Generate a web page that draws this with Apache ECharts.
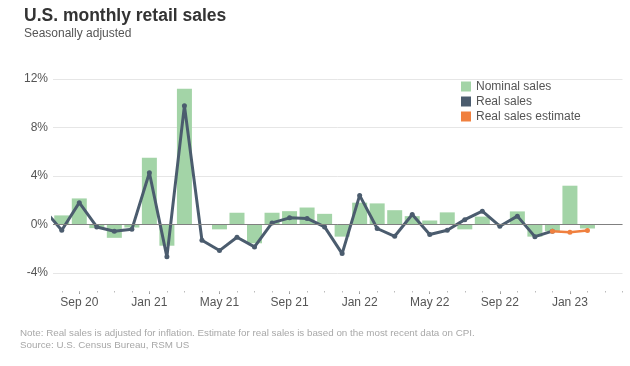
<!DOCTYPE html>
<html><head><meta charset="utf-8">
<script src="https://cdn.jsdelivr.net/npm/echarts@6/dist/echarts.min.js"></script>
<style>html,body{margin:0;padding:0;background:#fff}#c{width:630px;height:366px}</style>
</head><body><div id="c"></div>
<script>
// Month index 0 = Jul 20
const months = ["Jul 20","Aug 20","Sep 20","Oct 20","Nov 20","Dec 20",
  "Jan 21","Feb 21","Mar 21","Apr 21","May 21","Jun 21","Jul 21","Aug 21","Sep 21","Oct 21","Nov 21","Dec 21",
  "Jan 22","Feb 22","Mar 22","Apr 22","May 22","Jun 22","Jul 22","Aug 22","Sep 22","Oct 22","Nov 22","Dec 22",
  "Jan 23","Feb 23","Mar 23","Apr 23"];
// Nominal sales, % m/m (Jul 20 .. Feb 23)
const nominal = [null, 0.75, 2.15, -0.3, -1.1, -0.25,
  5.5, -1.75, 11.2, 0.0, -0.4, 0.97, -1.55, 0.97, 1.1, 1.4, 0.88, -1.0,
  1.8, 1.74, 1.18, 0.69, 0.33, 1.0, -0.4, 0.65, 0.0, 1.08, -1.0, -0.55,
  3.2, -0.33];
// Real sales, % m/m (Jul 20 .. Dec 22)
const real = [1.2, -0.47, 1.8, -0.2, -0.55, -0.4,
  4.27, -2.67, 9.8, -1.3, -2.15, -1.05, -1.85, 0.13, 0.55, 0.5, -0.2, -2.4,
  2.4, -0.33, -0.97, 0.83, -0.83, -0.47, 0.4, 1.1, -0.14, 0.69, -1.0, -0.55];
// Real sales estimate (Dec 22 .. Feb 23)
const estimateStart = "Dec 22";
const estimate = [-0.55, -0.63, -0.5];
const tickLabels = ["Sep 20","Jan 21","May 21","Sep 21","Jan 22","May 22","Sep 22","Jan 23"];

const majorIdx = tickLabels.map(l => months.indexOf(l));
const allIdx = months.map((m, i) => i).filter(i => i >= 1);
const estStart = months.indexOf(estimateStart);

const GREEN = '#a3d4a7', SLATE = '#4b5c6e', ORANGE = '#f0803f';
const chart = echarts.init(document.getElementById('c'), null, {renderer: 'canvas'});
chart.setOption({
  animation: false,
  textStyle: {fontFamily: 'Liberation Sans, Arial, sans-serif'},
  title: [
    {text: 'U.S. monthly retail sales', left: 24, top: 7, padding: 0,
     textStyle: {fontSize: 17.5, fontWeight: 'bold', color: '#333'}},
    {text: 'Seasonally adjusted', left: 24, top: 28, padding: 0,
     textStyle: {fontSize: 12, fontWeight: 'normal', color: '#555'}},
    {text: 'Note: Real sales is adjusted for inflation. Estimate for real sales is based on the most recent data on CPI.', left: 20, top: 328, padding: 0,
     textStyle: {fontSize: 9.8, fontWeight: 'normal', color: '#a8a8a8'}},
    {text: 'Source: U.S. Census Bureau, RSM US', left: 20, top: 340, padding: 0,
     textStyle: {fontSize: 9.8, fontWeight: 'normal', color: '#a8a8a8'}}
  ],
  legend: {
    orient: 'vertical', left: 461, top: 80.5, padding: 0,
    itemWidth: 10, itemHeight: 10, itemGap: 3, icon: 'rect',
    textStyle: {fontSize: 12, color: '#555'},
    data: ['Nominal sales', 'Real sales', 'Real sales estimate']
  },
  grid: {left: 53, right: 7.5, top: 79, bottom: 93, containLabel: false},
  xAxis: [
    {type: 'value', min: 0.5, max: 33, position: 'bottom', offset: 18,
     axisLine: {show: false, onZero: false}, splitLine: {show: false},
     axisTick: {show: true, customValues: majorIdx, length: 3, lineStyle: {color: '#999'}},
     axisLabel: {customValues: majorIdx, formatter: v => months[Math.round(v)], color: '#555', fontSize: 12, margin: 6}},
    {type: 'value', min: 0.5, max: 33, position: 'bottom', offset: 18,
     axisLine: {show: false, onZero: false}, splitLine: {show: false},
     axisTick: {show: true, customValues: allIdx, length: 1.5, lineStyle: {color: '#bbb'}},
     axisLabel: {show: false}}
  ],
  yAxis: {type: 'value', min: -4, max: 12, interval: 4,
    axisLine: {show: false}, axisTick: {show: false},
    axisLabel: {formatter: '{value}%', color: '#555', fontSize: 12, margin: 5},
    splitLine: {lineStyle: {color: '#e6e6e6', width: 1}}},
  series: [
    {name: 'Nominal sales', type: 'bar', xAxisIndex: 0, barWidth: 15,
     itemStyle: {color: GREEN},
     data: nominal.map((v, i) => v == null ? null : [i, v]).filter(d => d),
     markLine: {silent: true, symbol: ['none', 'none'], label: {show: false},
       lineStyle: {color: '#808080', width: 1, type: 'solid'}, data: [{yAxis: 0}]}},
    {name: 'Real sales', type: 'line', xAxisIndex: 0, z: 3,
     symbol: 'circle', symbolSize: 5, showSymbol: true,
     lineStyle: {color: SLATE, width: 3}, itemStyle: {color: SLATE},
     data: real.map((v, i) => [i, v])},
    {name: 'Real sales estimate', type: 'line', xAxisIndex: 0, z: 4,
     symbol: 'circle', symbolSize: 5,
     lineStyle: {color: ORANGE, width: 2.5}, itemStyle: {color: ORANGE},
     data: estimate.map((v, i) => [estStart + i, v])}
  ]
});
</script></body></html>
